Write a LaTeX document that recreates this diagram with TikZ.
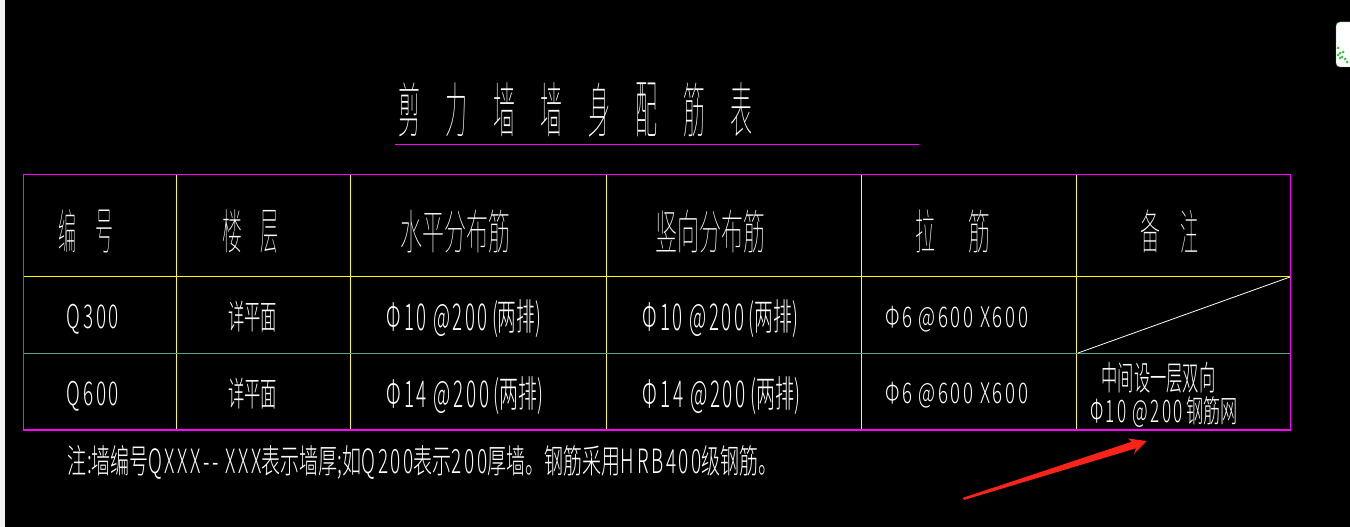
\documentclass[tikz,border=0pt]{standalone}
\usepackage{fontspec, graphicx}
\newfontfamily\cadfont{Noto Sans CJK SC Thin}
\newfontfamily\cadbold{Noto Sans CJK SC Light}
\newfontfamily\cadwide[LetterSpace=14]{Noto Sans CJK SC Light}
\newcommand{\cad}[3]{\resizebox*{#1pt}{#2pt}{\cadfont #3}}
\newcommand{\cadb}[3]{\resizebox*{#1pt}{#2pt}{\cadbold #3}}
\newcommand{\wid}[1]{{\cadwide #1}}
\definecolor{magline}{RGB}{255,0,255}
\definecolor{yelline}{RGB}{255,255,0}
\definecolor{midline}{RGB}{95,160,145}
\definecolor{arrowred}{RGB}{250,35,25}
\tikzset{
  cell/.style={inner sep=0pt, outer sep=0pt, white},
  magrule/.style={magline, line width=1.1pt},
  yelrule/.style={yelline, line width=1pt},
}
\begin{document}
\begin{tikzpicture}[x=1pt,y=-1pt]
\useasboundingbox (0,0) rectangle (1350,527);
\fill [black] (0,0) rectangle (1350,527);
\fill [gray!10] (0,0) rectangle (4.5,527);
% corner icon
\draw [fill=white, rounded corners=4pt, draw=green!40!gray] (1336,22) rectangle (1356,67);
\foreach \p in {(1338,48),(1340,53),(1342,57),(1345,59),(1338,55),(1347,62),(1343,52),(1340,58)}
\fill [green!50!gray] \p circle [radius=1.5];
% title
\foreach \ch [count=\i] in {剪,力,墙,墙,身,配,筋,表}
\node [cell] (title\i) at ({361.5+47.5*\i},110) {\cad{22}{54}{\ch}};
\draw [magrule] (395,144.5) -- (919,144.5);
% table lines
\foreach \x in {176.5,350.5,606.5,861.5,1076.5}
\draw [yelrule] (\x,174.5) -- (\x,430);
\draw [yelrule] (23.5,276.5) -- (1290.5,276.5);
\draw [midline, line width=1pt] (23.5,353.5) -- (1290.5,353.5);
\draw [magrule] (23.5,174.5) rectangle (1290.5,430);
\draw [white, line width=.8pt] (1078,353) -- (1290,277);
% header
\node [cell] (hdrA) at (67,231.5) {\cad{18}{43}{编}};
\node [cell] (hdrB) at (104,231.5) {\cad{18}{43}{号}};
\node [cell] (hdrC) at (232,231.5) {\cad{20}{43}{楼}};
\node [cell] (hdrD) at (269,231.5) {\cad{18}{43}{层}};
\node [cell] (hdrE) at (455,231.5) {\cad{110}{43}{水平分布筋}};
\node [cell] (hdrF) at (710,231.5) {\cad{110}{43}{竖向分布筋}};
\node [cell] (hdrG) at (925,231.5) {\cad{20}{43}{拉}};
\node [cell] (hdrH) at (979,231.5) {\cad{22}{43}{筋}};
\node [cell] (hdrI) at (1150,231.5) {\cad{20}{43}{备}};
\node [cell] (hdrJ) at (1189,231.5) {\cad{18}{43}{注}};
% rows
\node [cell] (numA) at (93,319) {\cadb{52}{30}{\wid{Q300}}};
\node [cell] (numB) at (93,396) {\cadb{52}{30}{\wid{Q600}}};
\node [cell] (floorA) at (252.5,316.5) {\cadb{49}{31}{详平面}};
\node [cell] (floorB) at (252.5,393.5) {\cadb{49}{31}{详平面}};
\node [cell] (horA) at (464,319) {\cadb{154}{38}{\wid{Φ10 @200} (两排)}};
\node [cell] (horB) at (465,396) {\cadb{156}{38}{\wid{Φ14 @200} (两排)}};
\node [cell] (verA) at (720.5,319) {\cadb{155}{38}{\wid{Φ10 @200} (两排)}};
\node [cell] (verB) at (721.5,396) {\cadb{157}{38}{\wid{Φ14 @200} (两排)}};
\node [cell] (tieA) at (956.5,319.5) {\cadb{143}{26}{\wid{Φ6 @600 X600}}};
\node [cell] (tieB) at (956.5,395.5) {\cadb{143}{26}{\wid{Φ6 @600 X600}}};
\node [cell] (noteA) at (1158.5,377.5) {\cadb{114}{31}{中间设一层双向}};
\node [cell] (noteB) at (1164,412.5) {\cadb{148}{31}{\wid{Φ10 @200} 钢筋网}};
% footnote
\node [cell] (foot) at (423,462) {\cadb{710}{34}{注:墙编号\wid{QXXX-- XXX}表示墙厚;如\wid{Q200}表示\wid{200}厚墙。钢筋采用\wid{HRB400}级钢筋。}};
% red arrow
\coordinate (tailA) at (963,497.8);
\coordinate (tailB) at (964,500);
\coordinate (tip) at (1146.7,441);
\fill [arrowred] (tailA) -- (1131.7,441.7) -- (1128,438.5) -- (tip) -- (1134,454) -- (1136,448.3) -- (tailB) -- cycle;
\end{tikzpicture}
\end{document}
